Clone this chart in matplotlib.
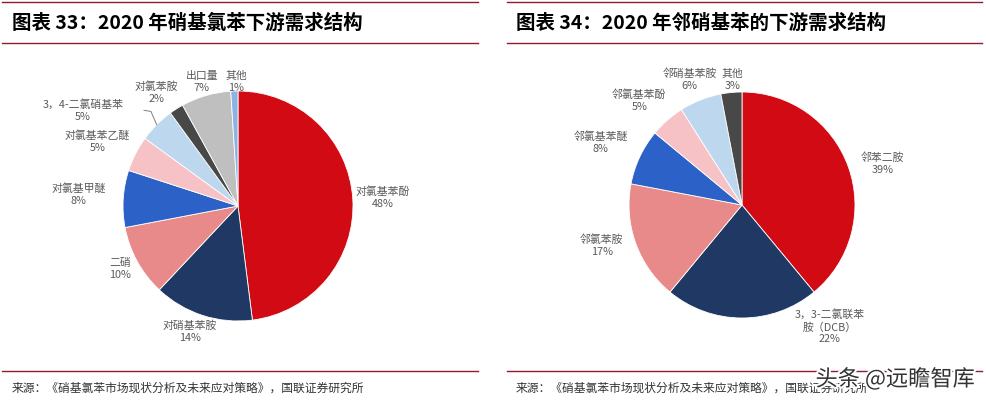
import numpy as np
import matplotlib.pyplot as plt
import matplotlib.patheffects as pe

plt.rcParams['font.family'] = ['Noto Sans CJK SC', 'DejaVu Sans']

# 图表33 数据
left_names = ['对氯基苯酚', '对硝基苯胺', '二硝', '对氯基甲醚', '对氯基苯乙醚',
              '3，4-二氯硝基苯', '对氯苯胺', '出口量', '其他']
left_vals = [48, 14, 10, 8, 5, 5, 2, 7, 1]

# 图表34 数据
right_names = ['邻苯二胺', '3，3-二氯联苯\n胺（DCB）', '邻氯苯胺', '邻氯基苯醚',
               '邻氯基苯酚', '邻硝基苯胺', '其他']
right_vals = [39, 22, 17, 8, 5, 6, 3]

left_colors = ['#D20A14', '#1F3864', '#E98A8A', '#2C62C8', '#F6C2C5',
               '#BDD7EE', '#484848', '#BFBFBF', '#8DB3E2']
right_colors = ['#D20A14', '#1F3864', '#E98A8A', '#2C62C8', '#F6C2C5',
                '#BDD7EE', '#484848']

# 标签位置：相对半径，角度微调
left_dist = [1.26, 1.16, 1.16, 1.39, 1.35, 1.59, 1.22, 1.13, 1.09]
left_dang = [0, -3, -1, -1, 2, 13, 3, 0, -1]
right_dist = [1.30, 1.32, 1.29, 1.37, 1.30, 1.21, 1.12]
right_dang = [-3, 36, -4, 1, 3, 1, -1]

W, H = 986, 402
fig = plt.figure(figsize=(W / 100, H / 100), dpi=100)

RED = '#8E1B2E'
TXT = '#595959'


def hline(x0, x1, y):
    fig.add_artist(plt.Line2D([x0 / W, x1 / W], [1 - y / H, 1 - y / H],
                              color=RED, lw=1.0))


def draw_pie(cx, cy, r, vals, names, colors, dist, dang, leader=None):
    s = 1.7 * r
    ax = fig.add_axes([(cx - s) / W, (H - cy - s) / H, 2 * s / W, 2 * s / H])
    wedges, _ = ax.pie(vals, colors=colors, startangle=90, counterclock=False,
                       radius=1.0, wedgeprops=dict(edgecolor='white', linewidth=0.6))
    ax.set_xlim(-1.7, 1.7)
    ax.set_ylim(-1.7, 1.7)
    ax.set_aspect('equal')
    ax.axis('off')
    for i, w in enumerate(wedges):
        mid = (w.theta1 + w.theta2) / 2 + dang[i]
        a = np.deg2rad(mid)
        x, y = dist[i] * np.cos(a), dist[i] * np.sin(a)
        ax.text(x, y, f'{names[i]}\n{vals[i]}%', ha='center', va='center',
                fontsize=7.8, color=TXT, linespacing=1.25)
        if leader is not None and i == leader:
            m = np.deg2rad((w.theta1 + w.theta2) / 2)
            ex, ey = 1.0 * np.cos(m), 1.0 * np.sin(m)
            ax.plot([ex, ex - 0.05, ex - 0.11], [ey, ey + 0.115, ey + 0.125],
                    color='#7F7F7F', lw=0.7)
    return ax


draw_pie(238, 207, 115, left_vals, left_names, left_colors, left_dist, left_dang,
         leader=5)
draw_pie(742, 206, 113, right_vals, right_names, right_colors, right_dist, right_dang)

# 标题与分隔线
hline(2, 478, 3)
hline(2, 478, 44)
hline(507, 982, 3)
hline(507, 982, 44)
hline(2, 478, 372)
hline(507, 982, 372)

fig.text(12 / W, 1 - 23 / H, '图表 33：2020 年硝基氯苯下游需求结构', fontsize=14,
         fontweight='bold', va='center', ha='left', color='black')
fig.text(516 / W, 1 - 23 / H, '图表 34：2020 年邻硝基苯的下游需求结构', fontsize=14,
         fontweight='bold', va='center', ha='left', color='black')

src = '来源：《硝基氯苯市场现状分析及未来应对策略》，国联证券研究所'
fig.text(12 / W, 1 - 388 / H, src, fontsize=8.5, va='center', ha='left', color='#333333')
fig.text(516 / W, 1 - 388 / H, src, fontsize=8.5, va='center', ha='left', color='#333333')

wm = fig.text(975 / W, 1 - 380 / H, '头条 @远瞻智库', fontsize=16, va='center', ha='right',
              color='#333333')
wm.set_path_effects([pe.withStroke(linewidth=3, foreground='white')])

fig.savefig('out.png', dpi=100)
